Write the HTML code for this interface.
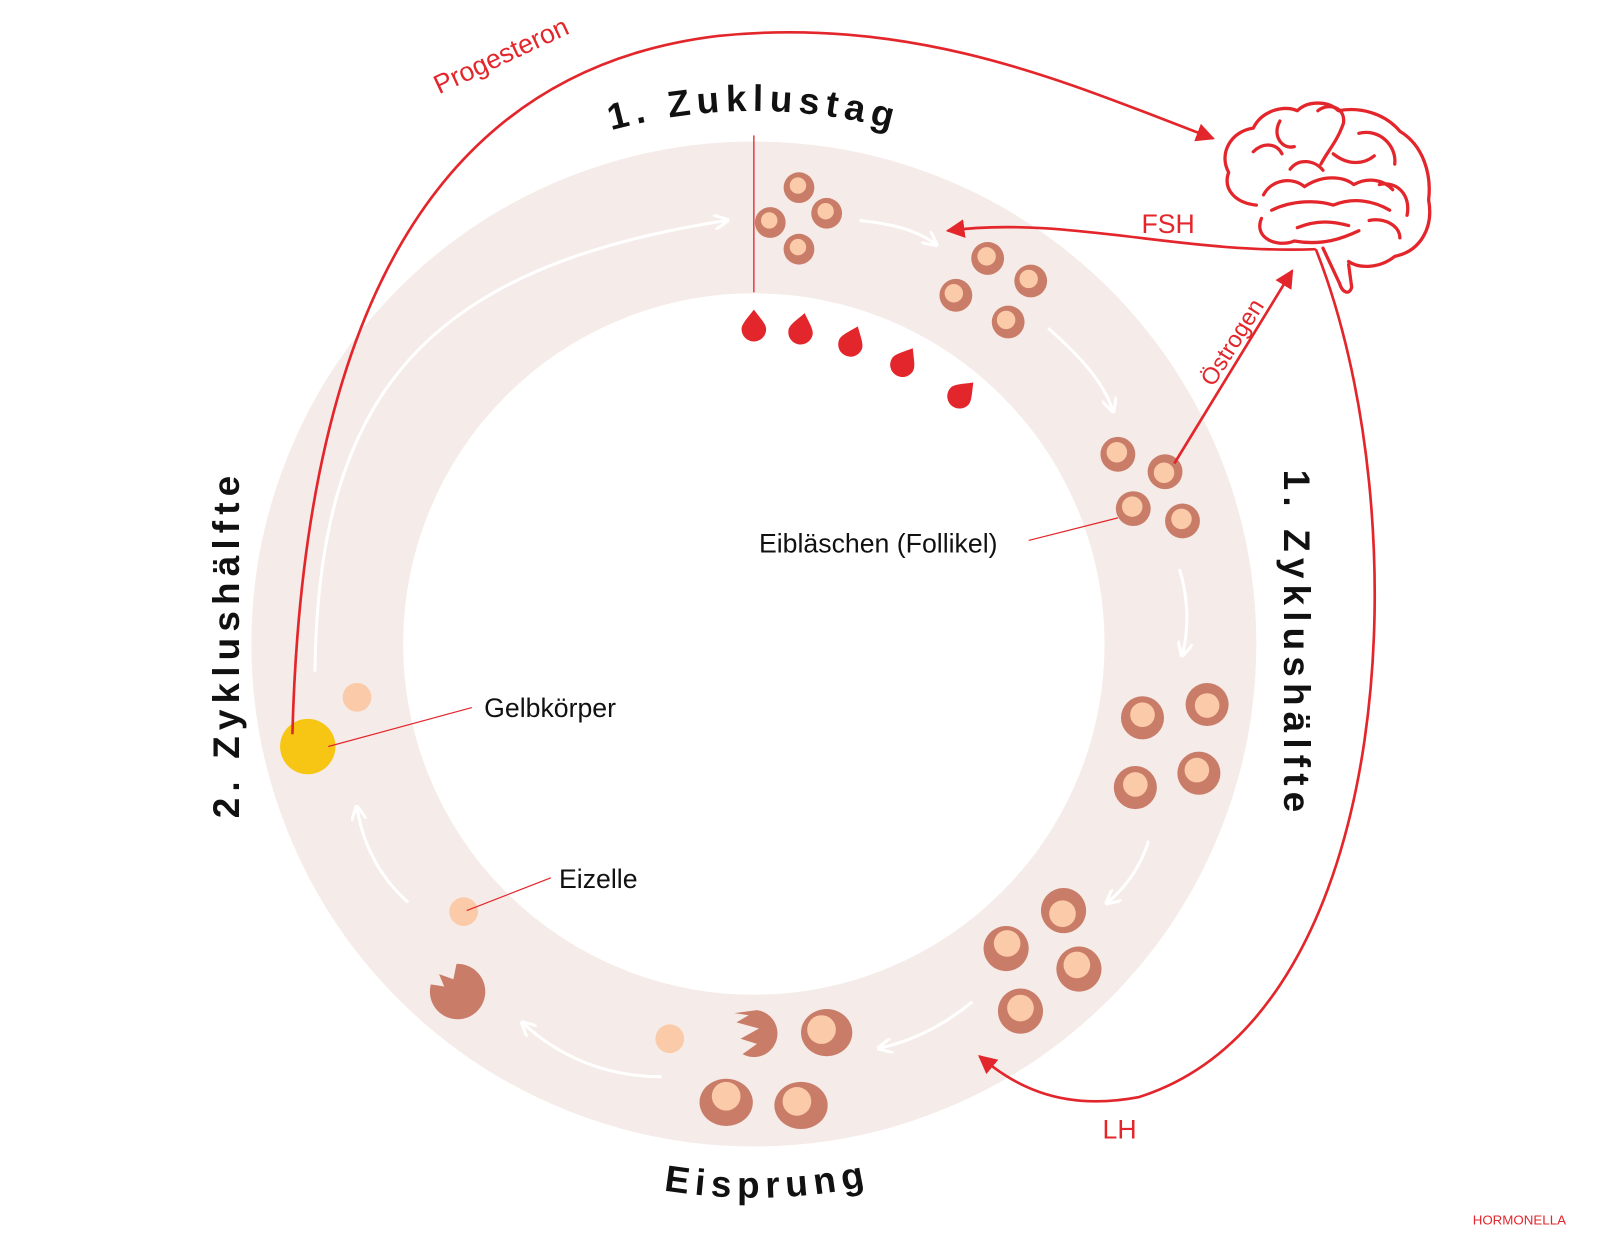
<!DOCTYPE html>
<html><head><meta charset="utf-8"><style>
html,body{margin:0;padding:0;background:#fff;}
svg{display:block;}
text{font-family:"Liberation Sans",sans-serif;}
</style></head><body>
<svg width="1600" height="1249" viewBox="0 0 1560 1218" xmlns="http://www.w3.org/2000/svg">
<defs>
<marker id="ar" viewBox="0 0 10 10" refX="9" refY="5" markerWidth="7" markerHeight="7" orient="auto-start-reverse"><path d="M0,0L10,5L0,10z" fill="#e3262b"/></marker>
<marker id="aw" viewBox="0 0 10 10" refX="8" refY="5" markerWidth="5" markerHeight="5" orient="auto"><path d="M0,0L10,5L0,10" fill="none" stroke="#fff" stroke-width="2"/></marker>
<path id="topArc" d="M215,628 A520,520 0 0 1 1255,628"/>
<path id="botArc" d="M195,628 A540,540 0 0 0 1275,628"/>
</defs>
<circle cx="735" cy="628" r="416" fill="none" stroke="#f5ebe8" stroke-width="148"/>
<g fill="none" stroke="#fff" stroke-width="3" marker-end="url(#aw)">
<path d="M307,655 C310,380 420,260 708,215"/>
<path d="M838,215 C870,218 895,225 912,238"/>
<path d="M1022,320 C1050,345 1075,370 1085,400"/>
<path d="M1150,555 C1158,580 1160,610 1153,638"/>
<path d="M1120,820 C1112,845 1098,865 1080,880"/>
<path d="M948,977 C920,1000 890,1015 858,1022"/>
<path d="M645,1050 C590,1050 545,1030 510,998"/>
<path d="M398,880 C375,860 355,830 348,788"/>
</g>
<line x1="735" y1="132" x2="735" y2="285" stroke="#e3262b" stroke-width="1.3"/>
<g fill="#e3262b">
<path d="M735,302 C741,310 747,316 747,321 A12,12 0 1 1 723,321 C723,316 729,310 735,302z"/>
<path d="M781,305 C787,313 793,319 793,324 A12,12 0 1 1 769,324 C769,319 775,313 781,305z" transform="rotate(12 781 322)"/>
<path d="M830,317 C836,325 842,331 842,336 A12,12 0 1 1 818,336 C818,331 824,325 830,317z" transform="rotate(22 830 334)"/>
<path d="M881,337 C887,345 893,351 893,356 A12,12 0 1 1 869,356 C869,351 875,345 881,337z" transform="rotate(32 881 354)"/>
<path d="M937,368 C943,376 949,382 949,387 A12,12 0 1 1 925,387 C925,382 931,376 937,368z" transform="rotate(45 937 385)"/>
</g>
<g>
<g fill="#c97d69">
<circle cx="779" cy="183" r="15"/><circle cx="751" cy="217" r="15"/><circle cx="806" cy="208" r="15"/><circle cx="779" cy="243" r="15"/>
<circle cx="963" cy="252" r="16"/><circle cx="1005" cy="274" r="16"/><circle cx="932" cy="288" r="16"/><circle cx="983" cy="314" r="16"/>
<circle cx="1090" cy="443" r="17"/><circle cx="1136" cy="460" r="17"/><circle cx="1105" cy="496" r="17"/><circle cx="1153" cy="508" r="17"/>
<circle cx="1114" cy="700" r="21"/><circle cx="1177" cy="687" r="21"/><circle cx="1107" cy="768" r="21"/><circle cx="1169" cy="754" r="21"/>
<circle cx="1037" cy="888" r="22"/><circle cx="981" cy="925" r="22"/><circle cx="1052" cy="945" r="22"/><circle cx="995" cy="986" r="22"/>
<ellipse cx="806" cy="1007" rx="25" ry="23"/><ellipse cx="708" cy="1075" rx="26" ry="23"/><ellipse cx="781" cy="1078" rx="26" ry="23"/>
<path d="M738,985 A23,23 0 1 1 724,1028 L738,1018 L722,1013 L740,1003 L718,997 L730,990 L716,988z"/>
<path d="M445,940 A27,27 0 1 1 420,960 L433,962 L428,950 L442,955z"/>
</g>
<g fill="#fbcaa8">
<circle cx="778" cy="181" r="8"/><circle cx="750" cy="215" r="8"/><circle cx="805" cy="206" r="8"/><circle cx="778" cy="241" r="8"/>
<circle cx="962" cy="250" r="9"/><circle cx="1003" cy="272" r="9"/><circle cx="930" cy="286" r="9"/><circle cx="981" cy="312" r="9"/>
<circle cx="1089" cy="441" r="10"/><circle cx="1135" cy="461" r="10"/><circle cx="1104" cy="494" r="10"/><circle cx="1152" cy="506" r="10"/>
<circle cx="1114" cy="697" r="12"/><circle cx="1177" cy="688" r="12"/><circle cx="1107" cy="765" r="12"/><circle cx="1167" cy="751" r="12"/>
<circle cx="1036" cy="891" r="13"/><circle cx="982" cy="920" r="13"/><circle cx="1050" cy="941" r="13"/><circle cx="995" cy="983" r="13"/>
<circle cx="801" cy="1004" r="14"/><circle cx="708" cy="1069" r="14"/><circle cx="777" cy="1074" r="14"/>
<circle cx="653" cy="1013" r="14"/><circle cx="452" cy="889" r="14"/><circle cx="348" cy="680" r="14"/>
</g>
<circle cx="300" cy="728" r="27" fill="#f7c513"/>
</g>
<g stroke="#e3262b" stroke-width="1.2">
<line x1="1003" y1="527" x2="1090" y2="505"/>
<line x1="460" y1="690" x2="320" y2="728"/>
<line x1="537" y1="856" x2="455" y2="888"/>
</g>
<g font-size="26" fill="#111">
<text x="740" y="539">Eibläschen (Follikel)</text>
<text x="472" y="699">Gelbkörper</text>
<text x="545" y="866">Eizelle</text>
</g>
<g fill="none" stroke="#e3262b" stroke-width="2.6">
<path d="M285,716 C295,330 410,70 700,35 C900,15 1050,85 1183,135" marker-end="url(#ar)"/>
<path d="M1283,243 C1150,248 1040,210 924,225" marker-end="url(#ar)"/>
<path d="M1283,243 C1385,500 1365,990 1110,1070 C1030,1085 985,1055 955,1030" marker-end="url(#ar)"/>
<path d="M1145,452 L1260,264" marker-end="url(#ar)"/>
</g>
<g fill="#e3262b" font-size="26">
<text x="1113" y="227">FSH</text>
<text x="1075" y="1110">LH</text>
<text transform="translate(428,92) rotate(-25)">Progesteron</text>
<text transform="translate(1183,378) rotate(-58)" font-size="23">Östrogen</text>
<text x="1436" y="1194" font-size="13">HORMONELLA</text>
</g>
<g fill="none" stroke="#e3262b" stroke-width="3.2" stroke-linecap="round" stroke-linejoin="round">
<path d="M1225,200 C1205,198 1192,185 1198,168 C1188,150 1200,128 1222,125 C1230,108 1252,102 1265,108 C1275,98 1295,98 1305,108 C1325,104 1350,110 1365,128 C1388,142 1396,170 1393,195 C1398,222 1385,245 1360,250 C1345,262 1325,262 1315,255"/>
<path d="M1230,213 C1222,232 1245,242 1262,235 C1290,240 1310,232 1325,225"/>
<path d="M1232,190 C1240,175 1260,172 1272,182 C1290,170 1310,172 1320,180 C1335,172 1350,176 1358,185"/>
<path d="M1240,205 C1260,195 1285,195 1300,200 C1320,192 1340,196 1355,205"/>
<path d="M1285,108 C1295,100 1312,104 1310,120 C1304,138 1294,148 1288,160"/>
<path d="M1222,148 C1232,138 1245,140 1250,150"/>
<path d="M1248,118 C1240,132 1250,146 1262,143"/>
<path d="M1258,165 C1266,154 1282,156 1290,166"/>
<path d="M1325,130 C1345,125 1362,142 1360,160"/>
<path d="M1300,150 C1315,162 1330,160 1340,152"/>
<path d="M1345,180 C1362,176 1376,190 1372,210"/>
<path d="M1265,222 C1285,214 1300,216 1315,220"/>
<path d="M1335,215 C1350,212 1365,220 1365,232"/>
<path d="M1290,242 L1306,276 C1309,286 1316,288 1318,280 L1315,258"/>
</g>
<g font-weight="bold" fill="#111" font-size="36" letter-spacing="6">
<text><textPath href="#topArc" startOffset="50%" text-anchor="middle">1. Zuklustag</textPath></text>
<text><textPath href="#botArc" startOffset="50.8%" text-anchor="middle">Eisprung</textPath></text>
<text transform="translate(233,628) rotate(-90)" text-anchor="middle">2. Zyklushälfte</text>
<text transform="translate(1252,628) rotate(90)" text-anchor="middle">1. Zyklushälfte</text>
</g>
</svg>
</body></html>
